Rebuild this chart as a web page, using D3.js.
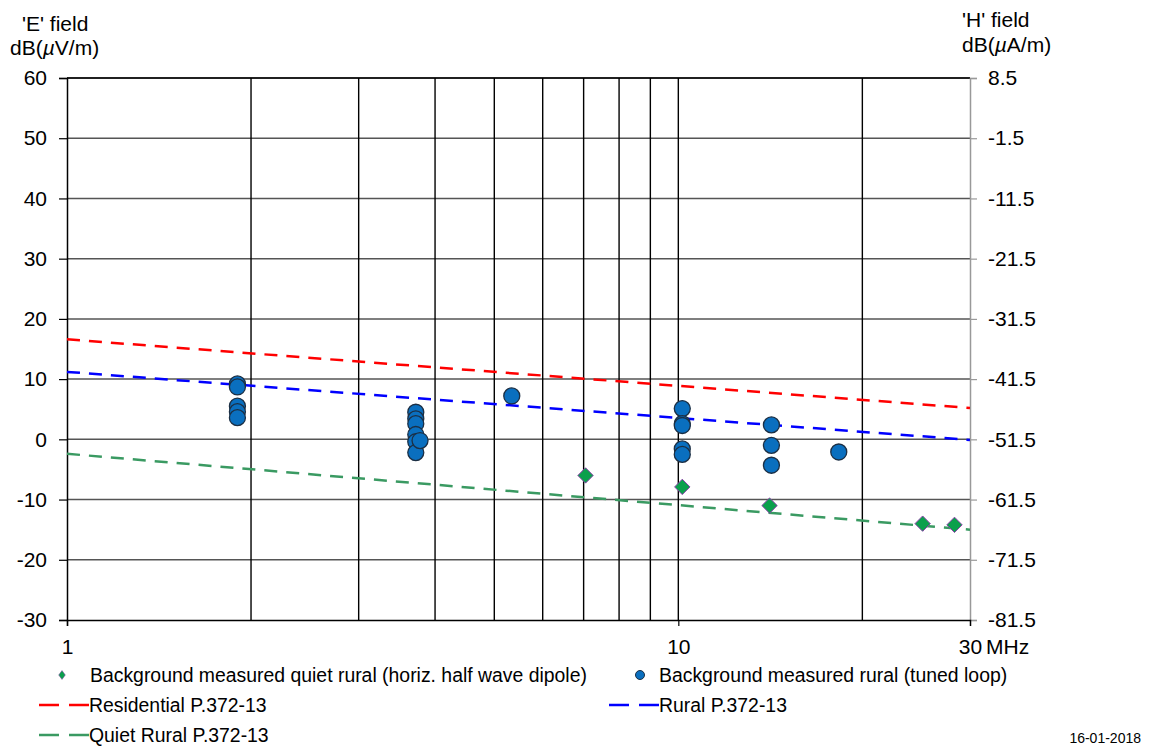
<!DOCTYPE html>
<html><head><meta charset="utf-8">
<script src="https://cdn.jsdelivr.net/npm/d3@7"></script>
<style>body{margin:0;background:#fff;} text{font-family:"Liberation Sans",Arial,sans-serif;fill:#000;}</style>
</head><body><svg id="c" width="1156" height="746"></svg>
<script>
// Data
const xTicks = [1, 10, 30];
const xGrid = [2, 3, 4, 5, 6, 7, 8, 9, 10, 20];
const yTicks = [60, 50, 40, 30, 20, 10, 0, -10, -20, -30];
const hOffset = -51.5;

const loopFreq = [1.9, 1.9, 1.9, 1.9, 1.9, 3.72, 3.72, 3.72, 3.72, 3.72, 3.72, 3.78, 5.34, 10.15, 10.15, 10.15, 10.15, 10.15, 14.2, 14.2, 14.2, 18.3];
const loopVal  = [9.2, 8.7, 5.5, 4.6, 3.6, 4.5, 3.4, 2.6, 0.8, -0.4, -2.2, -0.2, 7.2, 5.1, 2.6, 2.3, -1.6, -2.5, 2.4, -1.0, -4.3, -2.1];

const dipoleFreq = [7.05, 10.15, 14.1, 25.1, 28.3];
const dipoleVal  = [-6.0, -7.9, -11.0, -14.0, -14.2];

const lineFreq = [1, 30];
const residential = [16.6, 5.2];
const rural = [11.2, -0.1];
const quietRural = [-2.4, -15.0];

const svg = d3.select("#c");
const L = 67, R = 970, T = 78, B = 620;
const FS = "21px";
const x = d3.scaleLog().domain([1, 30]).range([L, R]);
const y = d3.scaleLinear().domain([-30, 60]).range([B, T]);
const yH = d3.scaleLinear().domain([-30 + hOffset, 60 + hOffset]).range([B, T]);
const hy = s => String(s).replace("\u2212", "-");

// grid horizontal
svg.append("g").selectAll("line").data(yTicks.filter(d => d !== -30)).join("line")
  .attr("x1", L).attr("x2", R).attr("y1", d => y(d)).attr("y2", d => y(d))
  .attr("stroke", "#555").attr("stroke-width", 1.5);
// grid vertical
svg.append("g").selectAll("line").data(xGrid).join("line")
  .attr("x1", d => x(d)).attr("x2", d => x(d)).attr("y1", T).attr("y2", B)
  .attr("stroke", "#000").attr("stroke-width", 1.4);
svg.append("line").attr("x1", L).attr("x2", R).attr("y1", T).attr("y2", T).attr("stroke", "#000").attr("stroke-width", 1.4);

// left axis
const yAxisL = d3.axisLeft(y).tickValues(yTicks).tickSize(8).tickPadding(12).tickFormat(d => hy(d3.format("d")(d)));
const gL = svg.append("g").attr("transform", `translate(${L},0)`).call(yAxisL);
gL.select(".domain").attr("stroke", "#000").attr("stroke-width", 1.5);
gL.selectAll(".tick line").attr("stroke", "#000").attr("stroke-width", 1.2);
gL.selectAll("text").style("font-size", FS).attr("fill", "#000");

// right axis
const yAxisR = d3.axisRight(yH).tickValues(yTicks.map(d => d + hOffset)).tickSize(7).tickPadding(11).tickFormat(d => hy(d3.format(".1f")(d)));
const gR = svg.append("g").attr("transform", `translate(${R},0)`).call(yAxisR);
gR.select(".domain").attr("stroke", "#999").attr("stroke-width", 1.5);
gR.selectAll(".tick line").attr("stroke", "#999").attr("stroke-width", 1.2);
gR.selectAll("text").style("font-size", FS).attr("fill", "#000");

// bottom axis
const xAxis = d3.axisBottom(x).tickValues(xTicks).tickSize(6).tickPadding(13).tickFormat(d3.format("d"));
const gB = svg.append("g").attr("transform", `translate(0,${B})`).call(xAxis);
gB.select(".domain").attr("stroke", "#000").attr("stroke-width", 1.5);
gB.selectAll(".tick line").attr("stroke", "#000").attr("stroke-width", 1.2);
gB.selectAll(".tick").filter(d => d === 30).select("line").remove();
gB.selectAll("text").style("font-size", FS).attr("fill", "#000");
svg.append("text").attr("x", 986).attr("y", 654).style("font-size", FS).text("MHz");

// axis titles
svg.append("text").attr("x", 22).attr("y", 31).style("font-size", FS).text("'E' field");
const e2 = svg.append("text").attr("x", 10).attr("y", 55).style("font-size", FS);
e2.append("tspan").text("dB(");
e2.append("tspan").style("font-style", "italic").text("µ");
e2.append("tspan").text("V/m)");
svg.append("text").attr("x", 962).attr("y", 27).style("font-size", FS).text("'H' field");
const h2 = svg.append("text").attr("x", 962).attr("y", 52).style("font-size", FS);
h2.append("tspan").text("dB(");
h2.append("tspan").style("font-style", "italic").text("µ");
h2.append("tspan").text("A/m)");

// lines
const lineGen = d3.line().x(d => x(d[0])).y(d => y(d[1]));
const series = [
  {vals: residential, color: "#ff0000"},
  {vals: rural, color: "#0000ff"},
  {vals: quietRural, color: "#3a9a62"}
];
series.forEach(s => {
  svg.append("path").datum(lineFreq.map((f, i) => [f, s.vals[i]]))
    .attr("d", lineGen).attr("fill", "none").attr("stroke", s.color)
    .attr("stroke-width", 2.5).attr("stroke-dasharray", "13,9");
});

// circles
svg.append("g").selectAll("circle").data(loopFreq.map((f, i) => [f, loopVal[i]])).join("circle")
  .attr("cx", d => x(d[0])).attr("cy", d => y(d[1])).attr("r", 8)
  .attr("fill", "#0a6fbf").attr("stroke", "#1c2f44").attr("stroke-width", 1.3);

// diamonds
const dsym = d3.symbol().type(d3.symbolDiamond2).size(150);
svg.append("g").selectAll("path").data(dipoleFreq.map((f, i) => [f, dipoleVal[i]])).join("path")
  .attr("transform", d => `translate(${x(d[0])},${y(d[1])})`)
  .attr("d", dsym).attr("fill", "#0aa04c").attr("stroke", "#8a3fa8").attr("stroke-width", 1);

// legend
const fs = "19.4px";
svg.append("path").attr("transform", "translate(62,675) scale(0.75,1)")
  .attr("d", d3.symbol().type(d3.symbolDiamond2).size(50)).attr("fill", "#0aa04c").attr("stroke", "#8a3fa8").attr("stroke-width", 0.6);
svg.append("text").attr("x", 90).attr("y", 682).style("font-size", fs).text("Background measured quiet rural (horiz. half wave dipole)");
svg.append("circle").attr("cx", 640).attr("cy", 675).attr("r", 4.5)
  .attr("fill", "#0a6fbf").attr("stroke", "#1c2f44").attr("stroke-width", 1);
svg.append("text").attr("x", 659).attr("y", 682).style("font-size", fs).text("Background measured rural (tuned loop)");

const legLines = [
  {x0: 39, y: 705, color: "#ff0000", label: "Residential P.372-13"},
  {x0: 609, y: 705, color: "#0000ff", label: "Rural P.372-13"},
  {x0: 39, y: 735, color: "#3a9a62", label: "Quiet Rural P.372-13"}
];
legLines.forEach(l => {
  svg.append("line").attr("x1", l.x0).attr("x2", l.x0 + 50).attr("y1", l.y).attr("y2", l.y)
    .attr("stroke", l.color).attr("stroke-width", 2.5).attr("stroke-dasharray", "20,10");
  svg.append("text").attr("x", l.x0 + 50).attr("y", l.y + 7).style("font-size", fs).text(l.label);
});
svg.append("text").attr("x", 1141).attr("y", 743).attr("text-anchor", "end").style("font-size", "14px").text("16-01-2018");
</script></body></html>
